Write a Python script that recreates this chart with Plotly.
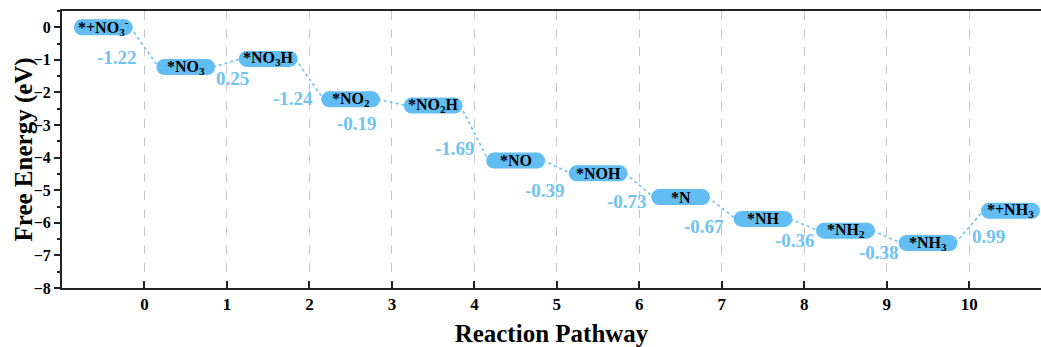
import numpy as np
import plotly.graph_objects as go

# Intermediates along the nitrate-to-ammonia pathway
species = ["*+NO<sub>3</sub><sup>-</sup>", "*NO<sub>3</sub>", "*NO<sub>3</sub>H", "*NO<sub>2</sub>",
           "*NO<sub>2</sub>H", "*NO", "*NOH", "*N", "*NH", "*NH<sub>2</sub>", "*NH<sub>3</sub>",
           "*+NH<sub>3</sub>"]
# Free energy change of each step (eV)
step_dG = [-1.22, 0.25, -1.24, -0.19, -1.69, -0.39, -0.73, -0.67, -0.36, -0.38, 0.99]
x_ticks = list(range(0, 11))

# Cumulative free energy of every intermediate, starting from 0
levels = np.concatenate([[0.0], np.cumsum(step_dG)])
centers = np.arange(len(levels)) - 0.5

# Placement of the step labels next to each connector (data units)
label_x = [-0.33, 1.07, 1.80, 2.58, 3.77, 4.86, 5.85, 6.78, 7.89, 8.90, 10.23]
label_y = [-0.92, -1.57, -2.20, -2.94, -3.71, -5.00, -5.35, -6.10, -6.53, -6.90, -6.42]

BAR = "#62BDF2"
TXT = "#6EC3F2"
FONT = "Liberation Serif"
HALF = 0.36          # visual half-width of a level bar
CAP = 0.26           # line end positions (round caps added by markers)

fig = go.Figure()

# dotted connectors between consecutive levels
for k in range(len(step_dG)):
    fig.add_trace(go.Scatter(
        x=[centers[k] + HALF - 0.03, centers[k + 1] - HALF + 0.03],
        y=[levels[k], levels[k + 1]],
        mode="lines", line=dict(color=TXT, width=1.6, dash="dot"),
        hoverinfo="skip", showlegend=False))

# rounded level bars
for c, e in zip(centers, levels):
    fig.add_trace(go.Scatter(
        x=[c - CAP, c + CAP], y=[e, e], mode="lines+markers",
        line=dict(color=BAR, width=16),
        marker=dict(color=BAR, size=16, line=dict(width=0)),
        hoverinfo="skip", showlegend=False))

annotations = []
for c, e, name in zip(centers, levels, species):
    annotations.append(dict(x=c, y=e, text=name, showarrow=False,
                            font=dict(family=FONT, size=16, color="black", weight="bold"),
                            xanchor="center", yanchor="middle"))
for xv, yv, d in zip(label_x, label_y, step_dG):
    annotations.append(dict(x=xv, y=yv, text=f"{d:.2f}", showarrow=False,
                            font=dict(family=FONT, size=19, color=TXT, weight="bold"),
                            xanchor="center", yanchor="middle"))

# vertical axis title
annotations.append(dict(xref="paper", yref="paper", x=-39 / 979, y=0.5,
                        text="Free Energy (eV)", textangle=-90, showarrow=False,
                        xanchor="center", yanchor="middle",
                        font=dict(family=FONT, size=25, color="black", weight="bold")))

fig.update_layout(
    width=1041, height=347,
    margin=dict(l=62, r=0, t=11, b=59),
    plot_bgcolor="white", paper_bgcolor="white",
    annotations=annotations,
    xaxis=dict(range=[-1, 10.87], tickvals=x_ticks, ticktext=[str(v) for v in x_ticks],
               showgrid=True, gridcolor="#C8C8C8", griddash="dash", gridwidth=1,
               zeroline=False, showline=True, linecolor="#222", linewidth=2, mirror=True,
               ticks="inside", ticklen=7, tickwidth=2, tickcolor="#222",
               tickfont=dict(family=FONT, size=17, color="black", weight="bold"),
               title=dict(text="Reaction Pathway", standoff=11,
                          font=dict(family=FONT, size=25, color="black", weight="bold"))),
    yaxis=dict(range=[-8, 0.5], tickmode="linear", tick0=0, dtick=1,
               showgrid=False, zeroline=False, showline=True, linecolor="#222", linewidth=2,
               ticks="outside", ticklen=6, tickwidth=2, tickcolor="#222",
               minor=dict(dtick=0.5, ticks="outside", ticklen=3, tickwidth=1.5, tickcolor="#222"),
               tickfont=dict(family=FONT, size=16, color="black", weight="bold")),
)

fig.write_html("out.html")
